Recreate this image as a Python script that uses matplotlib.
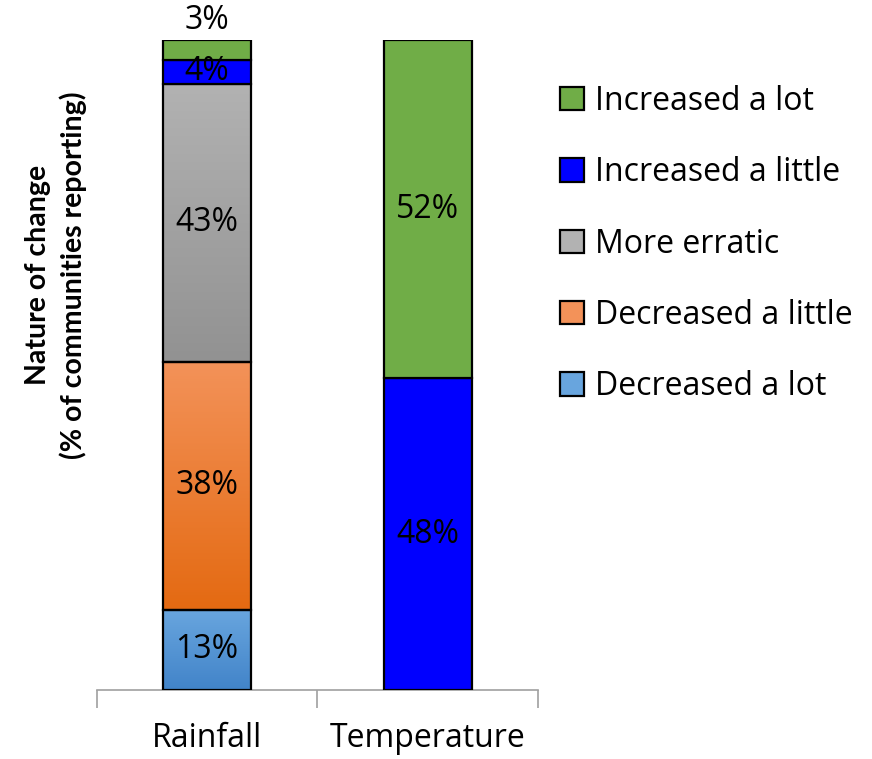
import matplotlib.pyplot as plt
import numpy as np
from matplotlib.colors import LinearSegmentedColormap
from matplotlib.patches import Patch

plt.rcParams['font.family'] = ['Open Sans', 'DejaVu Sans']

categories = ['Rainfall', 'Temperature']
series = ['Decreased a lot', 'Decreased a little', 'More erratic',
          'Increased a little', 'Increased a lot']
# share of communities (%), bottom to top
rainfall = [12.3, 38.2, 42.8, 3.7, 3.0]
temperature = [0, 0, 0, 48, 52]
rainfall_labels = ['13%', '38%', '43%', '4%', '3%']
temperature_labels = ['', '', '', '48%', '52%']

# (top colour, bottom colour) of each fill
colors = [('#68a5de', '#4284c9'),
          ('#f39259', '#e46a12'),
          ('#b2b2b2', '#929292'),
          ('#0000ff', '#0000ff'),
          ('#70ad47', '#70ad47')]

fs = 23

fig = plt.figure(figsize=(8.72, 7.59), dpi=100)
ax = fig.add_axes([0.111, 0.091, 0.506, 0.856])

x = np.arange(len(categories))
width = 0.4
bottoms = np.zeros(len(categories))
data = np.array([rainfall, temperature]).T
labels = np.array([rainfall_labels, temperature_labels]).T

for i, name in enumerate(series):
    vals = data[i]
    top, bot = colors[i]
    gradient = top != bot
    bars = ax.bar(x, vals, width, bottom=bottoms,
                  color='none' if gradient else bot,
                  edgecolor='black', linewidth=1.6, zorder=3)
    if gradient:
        cmap = LinearSegmentedColormap.from_list(name, [bot, top])
        for b in bars:
            if b.get_height() <= 0:
                continue
            x0, y0 = b.get_x(), b.get_y()
            ax.imshow(np.linspace(0, 1, 100).reshape(-1, 1), cmap=cmap,
                      origin='lower', aspect='auto',
                      extent=[x0, x0 + b.get_width(), y0, y0 + b.get_height()],
                      zorder=2)
    for j, b in enumerate(bars):
        if labels[i][j] == '':
            continue
        yc = b.get_y() + b.get_height() / 2
        if name == 'Increased a lot' and categories[j] == 'Rainfall':
            yc = b.get_y() + b.get_height() + 3.0
        ax.text(b.get_x() + width / 2, yc, labels[i][j], ha='center',
                va='center', fontsize=fs, zorder=4, clip_on=False)
    bottoms += vals

ax.set_xlim(-0.5, 1.5)
ax.set_ylim(0, 100)
ax.set_aspect('auto')
ax.set_yticks([])
ax.set_xticks([-0.5, 0.5, 1.5])
ax.set_xticklabels([])
ax.set_xticks(x, minor=True)
ax.set_xticklabels(categories, minor=True, fontsize=fs)
ax.tick_params(axis='x', which='major', length=13, color='#a0a0a0', width=1.2)
ax.tick_params(axis='x', which='minor', length=0, pad=23)
for s in ['top', 'right', 'left']:
    ax.spines[s].set_visible(False)
ax.spines['bottom'].set_color('#a0a0a0')
ax.spines['bottom'].set_linewidth(1.2)

fig.text(0.064, 0.638, 'Nature of change\n(% of communities reporting)',
         rotation=90, ha='center', va='center', fontsize=20.5,
         family=['Lato', 'DejaVu Sans'], fontweight='bold', linespacing=1.35)

handles = [Patch(facecolor=colors[i][0], edgecolor='black', linewidth=1.6)
           for i in range(len(series))][::-1]
fig.legend(handles, series[::-1], loc='upper left',
           bbox_to_anchor=(0.609, 0.926), frameon=False, fontsize=fs,
           handlelength=0.75, handleheight=0.75, handletextpad=0.35,
           labelspacing=1.2)

fig.savefig('out.png', dpi=100)
